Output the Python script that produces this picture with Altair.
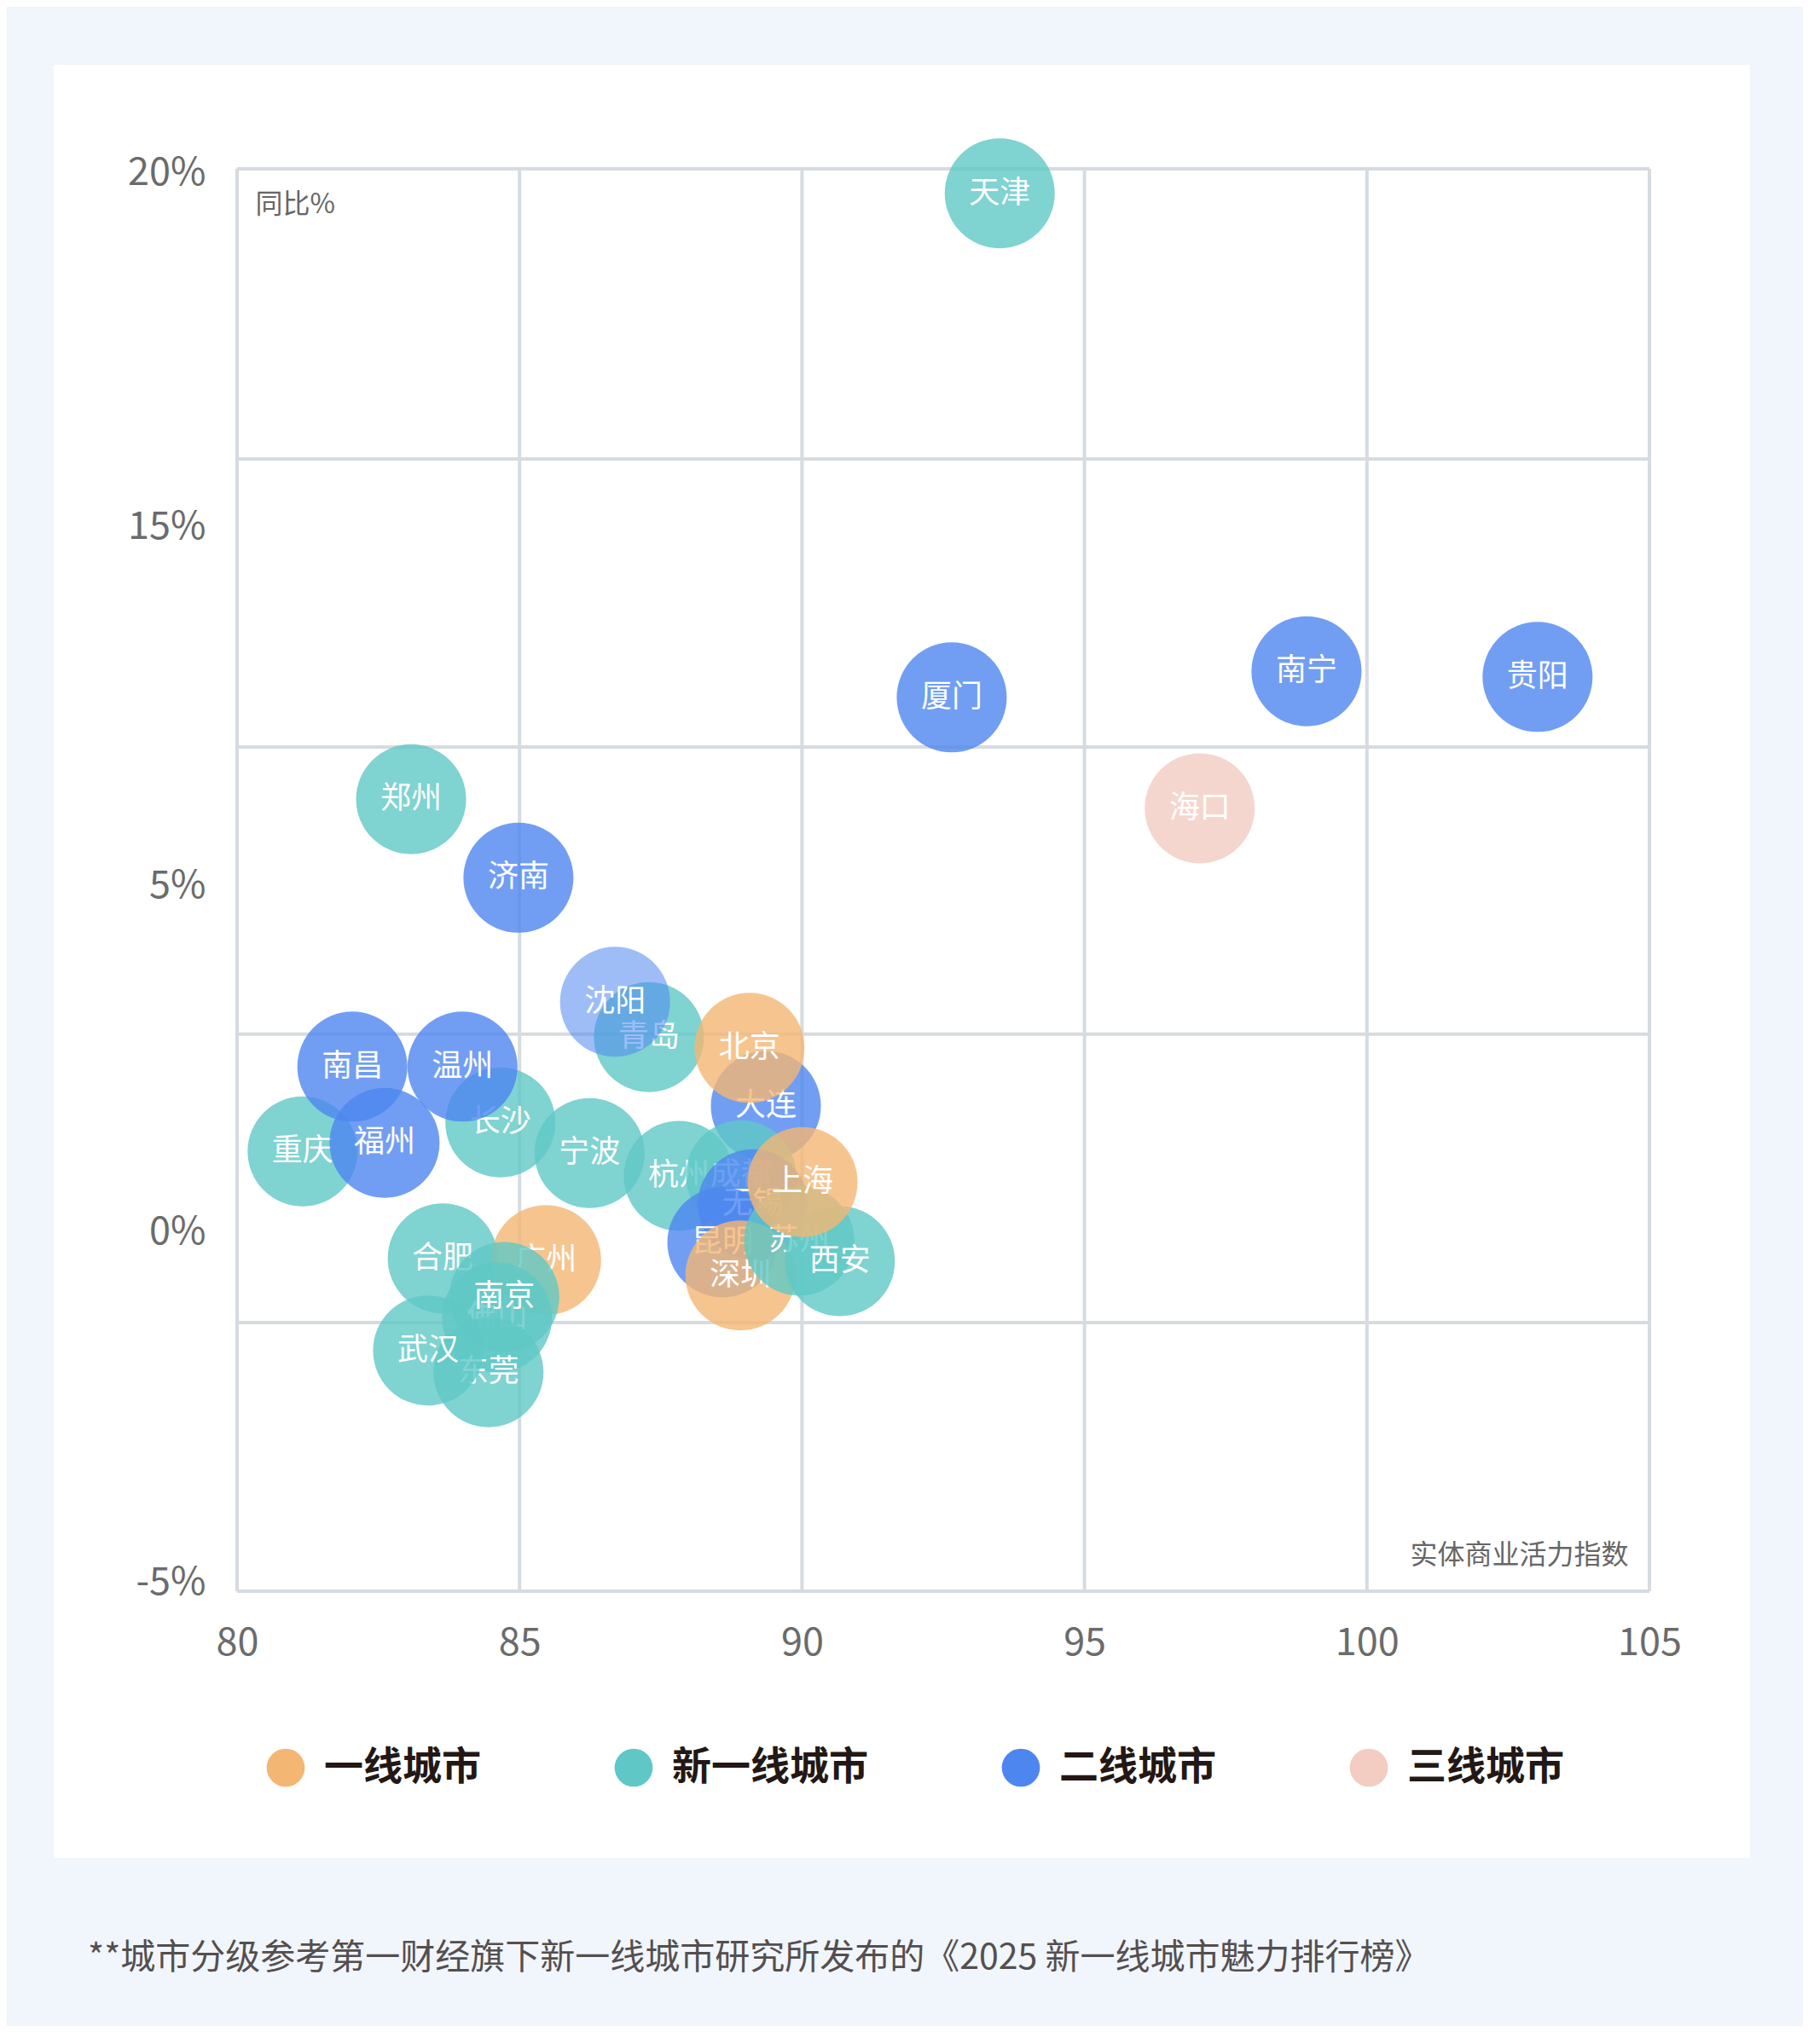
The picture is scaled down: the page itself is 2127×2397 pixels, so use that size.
import altair as alt
import pandas as pd

FONT = "Noto Sans CJK SC"
W, H = 1656, 1668
BG = "#F1F5FC"
GRID = "#D6DBE0"

# ---- data (drawing order) ----
cities = ["天津", "厦门", "南宁", "贵阳", "海口", "郑州", "济南", "重庆", "福州", "南昌",
          "长沙", "温州", "宁波", "青岛", "沈阳", "大连", "北京", "杭州", "成都", "无锡",
          "昆明", "深圳", "苏州", "西安", "上海", "合肥", "广州", "佛山", "南京", "东莞", "武汉"]
tiers = ["新一线城市", "二线城市", "二线城市", "二线城市", "三线城市", "新一线城市", "二线城市",
         "新一线城市", "二线城市", "二线城市", "新一线城市", "二线城市", "新一线城市", "新一线城市",
         "二线城市", "二线城市", "一线城市", "新一线城市", "新一线城市", "二线城市", "二线城市",
         "一线城市", "新一线城市", "新一线城市", "一线城市", "新一线城市", "一线城市", "新一线城市",
         "新一线城市", "新一线城市", "新一线城市"]
index_vals = [93.50, 92.65, 98.93, 103.02, 97.04, 83.08, 84.98, 81.16, 82.61, 82.04,
              84.66, 83.99, 86.24, 87.29, 86.69, 89.36, 89.07, 87.82, 88.92, 89.13,
              88.59, 88.91, 89.95, 90.67, 90.01, 83.64, 85.47, 84.60, 84.73, 84.45, 83.38]
yoy_vals = [19.57, 10.71, 11.17, 11.07, 8.76, 8.92, 7.54, 2.73, 2.88, 4.22,
            3.24, 4.22, 2.70, 4.74, 5.36, 3.53, 4.55, 2.30, 2.31, 1.80,
            1.13, 0.55, 1.16, 0.80, 2.19, 0.85, 0.82, -0.19, 0.17, -1.15, -0.77]

tier_order = ["一线城市", "新一线城市", "二线城市", "三线城市"]
tier_colors = ["#F4B673", "#5FC8C6", "#4E86F0", "#F3CCC2"]

x_grid = [80, 85, 90, 95, 100, 105]
y_grid = [20, 14.9, 9.84, 4.79, -0.28, -5]
y_label_pos = [19.93, 13.71, 7.41, 1.31, -4.85]
y_label_text = ["20%", "15%", "5%", "0%", "-5%"]

footnote = "**城市分级参考第一财经旗下新一线城市研究所发布的《2025 新一线城市魅力排行榜》"

df = pd.DataFrame({"city": cities, "tier": tiers, "index": index_vals, "yoy": yoy_vals})

# ---- scales / axes ----
label_expr = ""
for p, t in zip(y_label_pos, y_label_text):
    label_expr += f"abs(datum.value - ({p})) < 0.001 ? '{t}' : "
label_expr += "''"

xaxis = alt.Axis(values=x_grid, format="d", title="实体商业活力指数",
                 titleX=1631, titleY=-43, titleAlign="right", titleBaseline="middle",
                 titleFontSize=32, titleFont=FONT, titleFontWeight="normal", titleColor="#666666",
                 labelFontSize=45, labelFont=FONT, labelColor="#6B6B6B", labelPadding=38,
                 labelFlush=False, labelOverlap=False, ticks=False, domain=False, grid=False, zindex=1)
yaxis = alt.Axis(values=y_label_pos, labelExpr=label_expr, title="同比%",
                 titleAngle=0, titleX=21, titleY=41, titleAlign="left", titleBaseline="middle",
                 titleFontSize=32, titleFont=FONT, titleFontWeight="normal", titleColor="#666666",
                 labelFontSize=45, labelFont=FONT, labelColor="#6B6B6B", labelPadding=37,
                 labelBaseline="middle", labelFlush=False, labelOverlap=False,
                 ticks=False, domain=False, grid=False, zindex=1)
xs = alt.Scale(domain=[80, 105], nice=False, zero=False)
ys = alt.Scale(domain=[-5, 20], nice=False, zero=False)
X = alt.X("index:Q", scale=xs, axis=xaxis)
Y = alt.Y("yoy:Q", scale=ys, axis=yaxis)

legend = alt.Legend(title=None, orient="none", legendX=34, legendY=1852, direction="horizontal",
                    columns=4, symbolType="circle", symbolSize=2000, symbolOpacity=1,
                    symbolStrokeWidth=0, labelFontSize=46, labelFont=FONT, labelFontWeight="bold",
                    labelColor="#231815", labelOffset=22, columnPadding=156, padding=0,
                    labelLimit=400)
COLOR = alt.Color("tier:N", scale=alt.Scale(domain=tier_order, range=tier_colors), legend=legend)

# ---- layers ----
card = alt.Chart(pd.DataFrame({"k": [0]})).mark_rect(color="white").encode(
    x=alt.value(-215), x2=alt.value(1774), y=alt.value(-122), y2=alt.value(1981))

vgrid = alt.Chart(pd.DataFrame({"index": x_grid})).mark_rule(color=GRID, strokeWidth=4).encode(
    x=X, y=alt.value(0), y2=alt.value(H))
hgrid = alt.Chart(pd.DataFrame({"yoy": y_grid})).mark_rule(color=GRID, strokeWidth=4).encode(
    y=Y, x=alt.value(0), x2=alt.value(W))

layers = [card, vgrid, hgrid]
base = alt.Chart(df)
for c in cities:
    op = 0.55 if c == "沈阳" else 0.8
    sel = base.transform_filter(alt.datum.city == c)
    layers.append(sel.mark_circle(size=16640, opacity=op, strokeWidth=0).encode(x=X, y=Y, color=COLOR))
    layers.append(sel.mark_text(font=FONT, fontSize=36, color="white", align="center",
                                baseline="middle").encode(x=X, y=Y, text="city:N"))

foot = alt.Chart(pd.DataFrame({"t": [footnote]})).mark_text(
    align="left", baseline="middle", fontSize=41, font=FONT, color="#544F4F").encode(
    x=alt.value(-175), y=alt.value(2099), text="t:N")
layers.append(foot)

chart = alt.layer(*layers).properties(
    width=W, height=H, background=BG,
    padding={"left": 270, "top": 190, "right": 180, "bottom": 510},
    autosize=alt.AutoSizeParams(type="none"),
).configure_view(stroke=None)

chart.save("out.html", embed_options={"renderer": "svg", "actions": False})
